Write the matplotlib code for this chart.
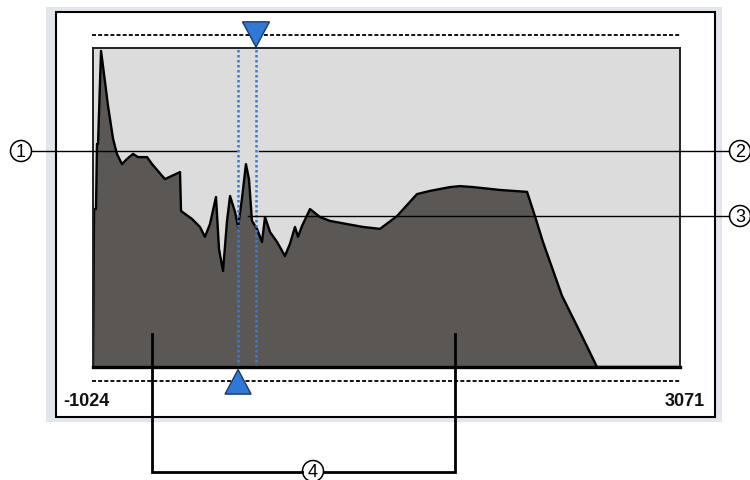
import matplotlib
matplotlib.use("Agg")
import matplotlib.pyplot as plt
from matplotlib.patches import Rectangle, Circle, Polygon
from matplotlib.transforms import blended_transform_factory

# ---- data ----
hu_values = [-1024, -1017, -1003, -996, -989, -968, -940, -919, -884, -857,
             -822, -787, -745, -710, -647, -612, -522, -417, -410, -333,
             -278, -243, -208, -166, -145, -117, -89, -68, -33, -12,
             15, 43, 64, 85, 120, 155, 176, 211, 260, 315,
             350, 385, 406, 434, 490, 560, 629, 748, 860, 978,
             1097, 1236, 1327, 1467, 1536, 1627, 1815, 2004, 2059, 2115,
             2248, 2373, 2492, 3071]
frequency = [0, 49.5, 49.5, 69.9, 69.9, 99.1, 89.3, 81.8, 71.5, 66.8,
             63.6, 65.2, 66.8, 65.8, 65.8, 63.6, 58.9, 61.1, 48.9, 46.4,
             43.9, 40.8, 44.8, 53.3, 37.0, 30.1, 45.8, 53.6, 48.6, 43.9,
             52.7, 63.6, 58.9, 45.8, 43.3, 39.2, 47.0, 42.3, 39.2, 34.8,
             38.6, 43.9, 40.8, 44.2, 49.5, 47.0, 45.8, 44.8, 43.9, 43.3,
             47.3, 54.2, 55.2, 56.4, 56.7, 56.4, 55.5, 54.9, 47.3, 39.2,
             22.3, 11.0, 0, 0]
range_labels = ["-1024", "3071"]
x_range = [-1024, 3071]
window_lower = -12
window_upper = 113
callout_labels = ["1", "2", "3", "4"]

W, H = 750, 481
fig = plt.figure(figsize=(W / 100, H / 100), dpi=100)

# background (pixel coordinates)
bg = fig.add_axes([0, 0, 1, 1], zorder=0)
bg.set_xlim(0, W); bg.set_ylim(H, 0); bg.axis("off")
bg.add_patch(Rectangle((46, 8), 676, 415, facecolor="#e3e7ed", edgecolor="none"))
bg.add_patch(Rectangle((56, 13), 659, 405, facecolor="white", edgecolor="black", lw=1.5))
for yy in (36, 382):
    bg.plot([92, 680], [yy, yy], color="black", lw=1.3, ls=(0, (2.2, 1.2)))
bg.text(63, 402, range_labels[0], fontsize=13, fontweight="bold",
        family="Liberation Sans", ha="left", va="center", color="#111111")
bg.text(705, 402, range_labels[1], fontsize=13, fontweight="bold",
        family="Liberation Sans", ha="right", va="center", color="#111111")

# histogram
ax = fig.add_axes([93 / W, (H - 368) / H, 587 / W, 319 / H], zorder=1)
ax.set_facecolor("#dcdcdc")
ax.fill_between(hu_values, frequency, color="#5b5755", lw=0)
ax.plot(hu_values, frequency, color="black", lw=1.7)
ax.set_xlim(*x_range)
ax.set_ylim(0, 100)
ax.set_xticks([]); ax.set_yticks([])
for s in ("left", "right", "top"):
    ax.spines[s].set_linewidth(1.4)
    ax.spines[s].set_color("#222222")
ax.spines["bottom"].set_linewidth(2.4)
ax.spines["bottom"].set_color("black")

blue = "#3a7bd5"
ax.axvline(window_lower, color=blue, ls=(0, (1, 1)), lw=1.8)
ax.axvline(window_upper, color=blue, ls=(0, (1, 1)), lw=1.8)
tr = blended_transform_factory(ax.transData, ax.transAxes)
ax.add_patch(Polygon([[window_upper - 94, 1.082], [window_upper + 94, 1.082],
                      [window_upper, 1.003]], closed=True, transform=tr,
                     clip_on=False, facecolor="#2f78d6", edgecolor="#1c3a66", lw=1))
ax.add_patch(Polygon([[window_lower - 91, -0.085], [window_lower + 91, -0.085],
                      [window_lower, -0.008]], closed=True, transform=tr,
                     clip_on=False, facecolor="#2f78d6", edgecolor="#1c3a66", lw=1))

# callouts (pixel coordinates)
fg = fig.add_axes([0, 0, 1, 1], zorder=3)
fg.set_xlim(0, W); fg.set_ylim(H, 0); fg.axis("off"); fg.patch.set_alpha(0)
fg.plot([32, 236], [152, 152], color="black", lw=1.0)
fg.plot([259, 729], [152, 152], color="black", lw=1.0)
fg.plot([248, 729], [217, 217], color="black", lw=1.0)
fg.plot([152, 152, 302], [335, 473, 473], color="black", lw=2.0, solid_joinstyle="miter")
fg.plot([324, 455, 455], [473, 473, 335], color="black", lw=2.0, solid_joinstyle="miter")

circles = [(21, 152), (740, 152), (740, 217), (313, 472)]
for (cx, cy), lab in zip(circles, callout_labels):
    fg.add_patch(Circle((cx, cy), 10.5, facecolor="white", edgecolor="black", lw=1.1))
    fg.text(cx, cy + 0.8, lab, fontsize=13, ha="center", va="center",
            family="Liberation Sans")

fig.savefig("out.png", dpi=100)
